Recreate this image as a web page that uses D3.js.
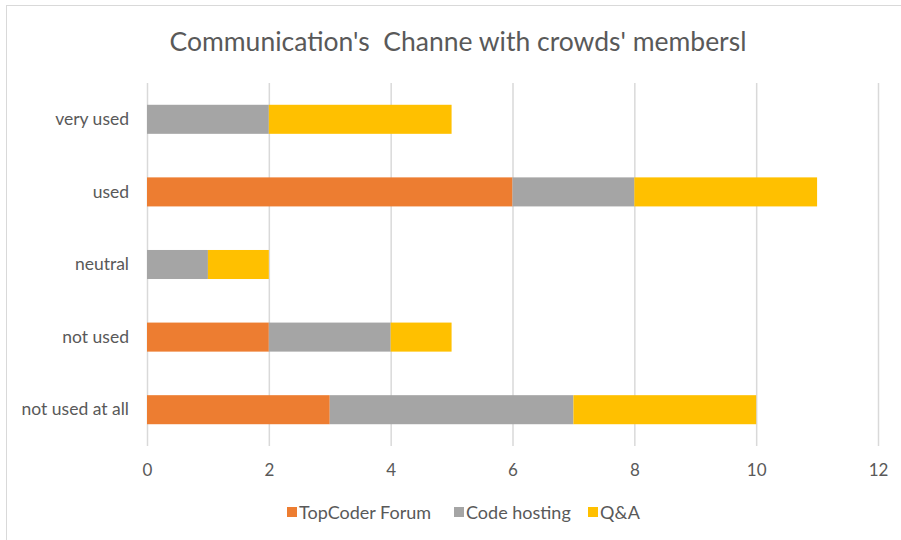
<!DOCTYPE html>
<html>
<head>
<meta charset="utf-8">
<script src="https://cdn.jsdelivr.net/npm/d3@7"></script>
<style>
  html, body { margin: 0; padding: 0; background: #fff; }
  svg { display: block; }
  text { font-family: Lato, "Open Sans", sans-serif; fill: #595959; }
</style>
</head>
<body>
<svg id="chart" width="901" height="540"></svg>
<script>
// Response categories, top to bottom
const categories = ["very used", "used", "neutral", "not used", "not used at all"];
// Series (stack order left to right)
const seriesNames = ["TopCoder Forum", "Code hosting", "Q&A"];
const topcoderForum = [0, 6, 0, 2, 3];
const codeHosting   = [2, 2, 1, 2, 4];
const qAndA         = [3, 3, 1, 1, 3];
const xTicks = [0, 2, 4, 6, 8, 10, 12];
const colors = ["#ED7D31", "#A5A5A5", "#FFC000"];
const title = "Communication's  Channe with crowds' membersl";

const rows = categories.map((c, i) => ({
  category: c,
  "TopCoder Forum": topcoderForum[i],
  "Code hosting": codeHosting[i],
  "Q&A": qAndA[i]
}));

const svg = d3.select("#chart");

// Chart frame
svg.append("rect")
  .attr("x", 6.5).attr("y", 5.5)
  .attr("width", 910).attr("height", 560)
  .attr("fill", "#fff").attr("stroke", "#D9D9D9").attr("stroke-width", 1);

const plot = { left: 147, right: 878, top: 83, bottom: 446 };

const x = d3.scaleLinear().domain([0, 12]).range([plot.left, plot.right]);
const y = d3.scaleBand().domain(categories).range([plot.top, plot.bottom]).paddingInner(0.6).paddingOuter(0.3);

// Vertical gridlines
svg.append("g")
  .selectAll("line")
  .data(xTicks)
  .join("line")
  .attr("x1", d => x(d) + 0.5).attr("x2", d => x(d) + 0.5)
  .attr("y1", plot.top).attr("y2", plot.bottom)
  .attr("stroke", "#D9D9D9").attr("stroke-width", 1.5);

// Stacked bars
const stack = d3.stack().keys(seriesNames);
const layers = stack(rows);

svg.append("g")
  .selectAll("g")
  .data(layers)
  .join("g")
  .attr("fill", (d, i) => colors[i])
  .selectAll("rect")
  .data(d => d)
  .join("rect")
  .attr("x", d => x(d[0]))
  .attr("width", d => x(d[1]) - x(d[0]))
  .attr("y", d => y(d.data.category))
  .attr("height", y.bandwidth());

// X axis tick labels
const xAxis = d3.axisBottom(x).tickValues(xTicks).tickSize(0).tickPadding(0).tickFormat(d3.format("d"));
const gx = svg.append("g").attr("transform", `translate(0, ${plot.bottom + 30})`).call(xAxis);
gx.select(".domain").remove();
gx.selectAll("text").attr("font-size", 17).attr("dy", "0").attr("font-family", "Lato, sans-serif").attr("fill", "#595959");

// Y axis category labels
const yAxis = d3.axisLeft(y).tickSize(0).tickPadding(18);
const gy = svg.append("g").attr("transform", `translate(${plot.left}, 0)`).call(yAxis);
gy.select(".domain").remove();
gy.selectAll("text").attr("font-size", 17.5).attr("font-family", "Lato, sans-serif").attr("fill", "#595959");

// Title
svg.append("text")
  .attr("x", 458).attr("y", 51)
  .attr("text-anchor", "middle")
  .attr("font-size", 26.5)
  .style("white-space", "pre")
  .text(title);

// Legend
const legendItems = [
  { name: seriesNames[0], x: 287 },
  { name: seriesNames[1], x: 454 },
  { name: seriesNames[2], x: 588 }
];
const lg = svg.append("g").selectAll("g").data(legendItems).join("g")
  .attr("transform", d => `translate(${d.x}, 507)`);
lg.append("rect").attr("width", 10).attr("height", 10).attr("fill", (d, i) => colors[i]);
lg.append("text").attr("x", 12).attr("y", 11.5).attr("font-size", 18).text(d => d.name);
</script>
</body>
</html>
